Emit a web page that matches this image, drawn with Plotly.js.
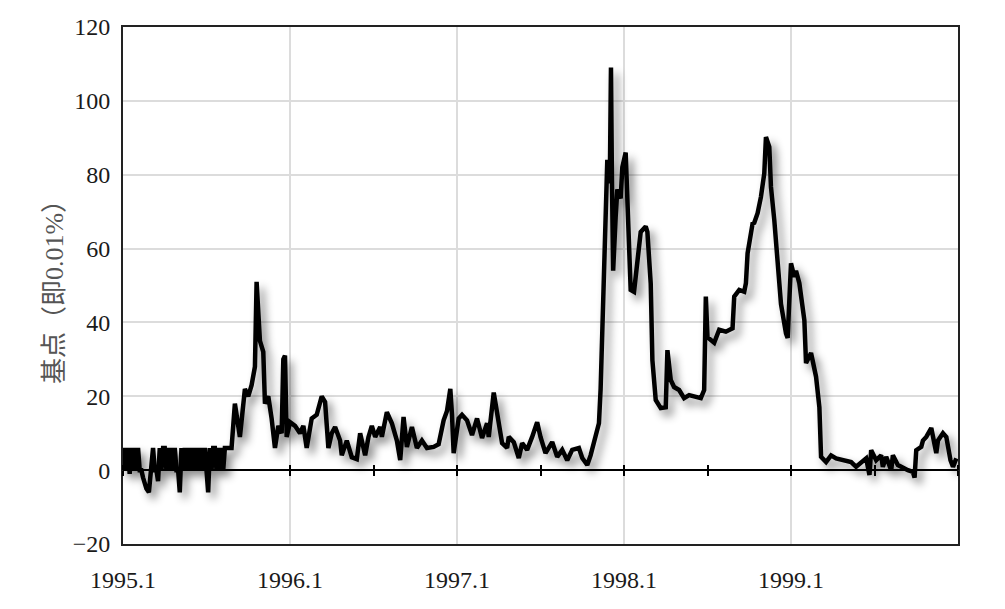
<!DOCTYPE html>
<html>
<head>
<meta charset="utf-8">
<script src="https://cdn.plot.ly/plotly-3.0.1.min.js"></script>
<style>
  html, body { margin: 0; padding: 0; background: #fff; }
  #chart { width: 1005px; height: 609px; }
</style>
</head>
<body>
<div id="chart"></div>
<script>
// Time in decimal years
const years = [
  1995.00,1995.01,1995.02,1995.03,1995.04,1995.05,1995.06,1995.07,1995.08,1995.09,
  1995.10,1995.11,1995.12,1995.13,1995.14,1995.155,1995.17,1995.18,1995.19,1995.20,
  1995.21,1995.22,1995.23,1995.24,1995.25,1995.26,1995.27,1995.28,1995.29,1995.30,
  1995.31,1995.32,1995.33,1995.34,1995.35,1995.36,1995.37,1995.38,1995.39,1995.40,
  1995.41,1995.42,1995.43,1995.44,1995.45,1995.46,1995.47,1995.48,1995.49,1995.50,
  1995.51,1995.52,1995.53,1995.54,1995.55,1995.56,1995.57,1995.58,1995.59,1995.60,
  1995.61,1995.65,1995.67,1995.70,1995.73,1995.75,1995.77,1995.79,1995.80,1995.82,
  1995.84,1995.85,1995.87,1995.89,1995.91,1995.93,1995.95,1995.96,1995.97,1995.98,
  1996.00,1996.03,1996.06,1996.08,1996.10,1996.13,1996.16,1996.19,1996.21,1996.23,
  1996.25,1996.27,1996.30,1996.31,1996.34,1996.37,1996.40,1996.42,1996.45,1996.47,
  1996.49,1996.51,1996.54,1996.55,1996.58,1996.61,1996.64,1996.66,1996.68,1996.70,
  1996.73,1996.76,1996.79,1996.82,1996.86,1996.89,1996.92,1996.94,1996.96,1996.97,
  1996.98,1997.01,1997.03,1997.06,1997.09,1997.12,1997.15,1997.18,1997.19,1997.22,
  1997.24,1997.27,1997.30,1997.31,1997.34,1997.37,1997.39,1997.42,1997.45,1997.48,
  1997.50,1997.53,1997.57,1997.60,1997.63,1997.66,1997.69,1997.73,1997.75,1997.78,
  1997.80,1997.82,1997.83,1997.85,1997.86,1997.87,1997.88,1997.89,1997.90,1997.915,
  1997.922,1997.928,1997.935,1997.95,1997.96,1997.98,1997.99,1998.01,1998.02,1998.03,
  1998.04,1998.06,1998.08,1998.10,1998.13,1998.14,1998.16,1998.17,1998.19,1998.22,
  1998.25,1998.26,1998.28,1998.30,1998.33,1998.36,1998.39,1998.43,1998.46,1998.48,
  1998.49,1998.50,1998.54,1998.57,1998.61,1998.65,1998.66,1998.69,1998.72,1998.73,
  1998.74,1998.77,1998.78,1998.80,1998.82,1998.84,1998.85,1998.87,1998.88,1998.90,
  1998.92,1998.94,1998.97,1998.98,1999.00,1999.02,1999.03,1999.05,1999.08,1999.09,
  1999.12,1999.15,1999.17,1999.18,1999.21,1999.24,1999.27,1999.32,1999.36,1999.39,
  1999.42,1999.45,1999.47,1999.48,1999.51,1999.54,1999.55,1999.57,1999.60,1999.61,
  1999.64,1999.67,1999.70,1999.73,1999.74,1999.75,1999.78,1999.79,1999.81,1999.84,
  1999.85,1999.87,1999.88,1999.91,1999.93,1999.955,1999.97,1999.99
];

// Spread in basis points (0.01%)
const basisPoints = [
  0,6,0,6,-1,6,0,6,0,6,
  0,0,-2,-4,-5,-6,0,6,0,0,
  -3,6,0,6,6,0,6,0,6,0,
  6,0,0,-6,6,0,6,0,6,0,
  6,0,6,0,6,0,6,0,6,-2,
  -6,6,0,6,6,0,6,0,6,0,
  6,6,18,9,22,20,23,28,51,35,
  32,18,20,14,6,12,10,30,31,9,
  13,12,10,12,6,14,15,20,18.5,6,
  10,11.7,8,4,8,3.5,3,10,4,9,
  12,9,11.7,9,15.7,12.7,8,2.7,14.4,6.3,
  11.7,6,8,6,6.3,7,13.5,16,22,15,
  4.6,14,15,13.5,9.5,14,8.7,12.7,9,21,
  15.4,7.3,6,9,7.6,3.3,7.3,5.5,9,13,
  9,4.6,7.6,3.6,5.5,2.7,5.5,6,3.3,1.4,
  4,8,10,12.7,22,37,45,59.6,84,77.7,
  109,77.7,54,68.5,76,73.6,82,86,71,57.7,
  48.8,48.3,57.7,64.5,66,64.5,50.6,29.8,19,16.8,
  17,32.5,24.4,22.5,21.7,19.5,20.3,19.8,19.5,21.7,
  47,36,34.5,38,37.5,38.4,47,48.8,48.3,50.6,
  58.7,66.8,67,69.6,74,80.4,90.2,87.5,76.7,67.7,
  56.8,45,37,35.8,56,52.3,54,50.6,40.6,29,
  31.7,25.3,17,3.6,2.2,4,3.2,2.7,2.2,0.9,
  1.9,3.2,-1.3,5.4,2.7,4,0.9,3.6,0,4,
  1.4,0.6,0,-0.5,-2,5.4,6.3,8,9,11.4,
  8.7,4.6,8,10,9,2.7,0.9,3.2
];

const tickYears = [1995, 1996, 1997, 1998, 1999];
const tickLabels = ['1995.1', '1996.1', '1997.1', '1998.1', '1999.1'];
const yTicks = [-20, 0, 20, 40, 60, 80, 100, 120];

const serif = '"Liberation Serif", "DejaVu Serif", serif';

const traces = [
  {
    x: years, y: basisPoints, type: 'scatter', mode: 'lines',
    line: { color: '#000', width: 4.5, shape: 'linear' },
    hoverinfo: 'skip', showlegend: false
  },
  { x: [], y: [], xaxis: 'x2', yaxis: 'y', type: 'scatter', mode: 'lines', showlegend: false, hoverinfo: 'skip' },
  { x: [], y: [], xaxis: 'x3', yaxis: 'y', type: 'scatter', mode: 'lines', showlegend: false, hoverinfo: 'skip' }
];

const zeroPos = 20 / 140;

const layout = {
  width: 1005, height: 609,
  margin: { l: 123, r: 47, t: 27, b: 65 },
  paper_bgcolor: '#fff', plot_bgcolor: '#fff',
  showlegend: false,
  font: { family: serif, size: 24, color: '#1a1a1a' },
  xaxis: {
    range: [1995, 2000],
    tickmode: 'array', tickvals: tickYears, ticktext: tickLabels,
    ticks: '', ticklabelstandoff: 13,
    showgrid: true, gridcolor: '#dcdcdc', gridwidth: 2,
    zeroline: false,
    showline: true, linecolor: '#222', linewidth: 2, mirror: true,
    tickfont: { family: serif, size: 24, color: '#1a1a1a' }
  },
  xaxis2: {
    overlaying: 'x', anchor: 'free', position: zeroPos, side: 'bottom',
    range: [1995, 2000], tickmode: 'linear', tick0: 1995, dtick: 0.5,
    ticks: 'outside', ticklen: 5, tickwidth: 2, tickcolor: '#000',
    showticklabels: false, showgrid: false, zeroline: false,
    showline: true, linecolor: '#000', linewidth: 2
  },
  xaxis3: {
    overlaying: 'x', anchor: 'free', position: zeroPos, side: 'top',
    range: [1995, 2000], tickmode: 'linear', tick0: 1995, dtick: 0.5,
    ticks: 'outside', ticklen: 5, tickwidth: 2, tickcolor: '#000',
    showticklabels: false, showgrid: false, zeroline: false,
    showline: false
  },
  yaxis: {
    range: [-20, 120],
    tickmode: 'array', tickvals: yTicks,
    ticks: '', ticklabelstandoff: 6,
    showgrid: true, gridcolor: '#dcdcdc', gridwidth: 2,
    zeroline: false,
    showline: true, linecolor: '#222', linewidth: 2, mirror: true,
    tickfont: { family: serif, size: 24, color: '#1a1a1a' },
    title: {
      text: '基点（即0.01%）',
      font: { family: '"Liberation Serif", "Noto Sans CJK SC", sans-serif', size: 26, color: '#555' },
      standoff: 2
    }
  }
};

Plotly.newPlot('chart', traces, layout, { staticPlot: true, displayModeBar: false }).then(function () {
  document.querySelectorAll('.scatterlayer .trace path.js-line').forEach(function (p) {
    p.style.filter = 'drop-shadow(5px 6px 4px rgba(0,0,0,0.45))';
  });
});
</script>
</body>
</html>
